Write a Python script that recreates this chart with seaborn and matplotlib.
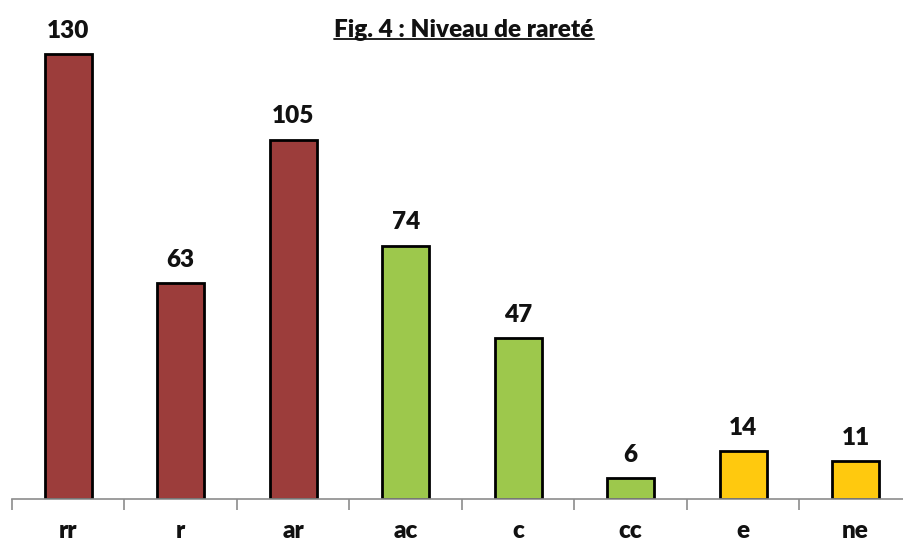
import pandas as pd
import seaborn as sns
import matplotlib.pyplot as plt
from matplotlib.lines import Line2D

# rarity level counts
categories = ["rr", "r", "ar", "ac", "c", "cc", "e", "ne"]
counts = [130, 63, 105, 74, 47, 6, 14, 11]
bar_colors = ["#9c3d3b", "#9c3d3b", "#9c3d3b",
              "#9dc84c", "#9dc84c", "#9dc84c",
              "#ffc90e", "#ffc90e"]

df = pd.DataFrame({"niveau": categories, "nombre": counts})

sns.set_style("white")
plt.rcParams['font.family'] = ['Lato', 'DejaVu Sans']

fig = plt.figure(figsize=(9.04, 5.44), dpi=100)
ax = fig.add_axes([12 / 904, 45 / 544, 892 / 904, 499 / 544])

sns.barplot(df, x="niveau", y="nombre", hue="niveau", palette=bar_colors,
            legend=False, width=0.42, edgecolor="black", linewidth=2,
            saturation=1, ax=ax)

for c in ax.containers:
    ax.bar_label(c, padding=9, fontsize=17.5, fontweight="heavy", color="#111111")

ax.set_ylim(0, 145.8)
ax.set_xlim(-0.5, 7.43)
ax.set_yticks([])
ax.set_xlabel("")
ax.set_ylabel("")
for s in ["top", "right", "left"]:
    ax.spines[s].set_visible(False)
ax.spines["bottom"].set_color("#8c8c8c")
ax.spines["bottom"].set_linewidth(1.2)

# ticks between categories, labels at centres
ax.set_xticks([i - 0.5 for i in range(len(categories))], minor=True)
ax.tick_params(axis="x", which="minor", bottom=True, length=8, width=1.2,
               color="#8c8c8c", direction="out")
ax.tick_params(axis="x", which="major", bottom=True, length=0, pad=15,
               labelsize=17.5)
for lab in ax.get_xticklabels():
    lab.set_fontweight("heavy")
    lab.set_color("#111111")

# underlined title
title = fig.text(464 / 904, 1 - 30 / 544, "Fig. 4 : Niveau de rareté",
                 ha="center", va="center", fontsize=17.5, fontweight="heavy",
                 color="#111111")
fig.canvas.draw()
bb = title.get_window_extent().transformed(fig.transFigure.inverted())
uy = bb.y0 + 0.004
fig.add_artist(Line2D([bb.x0, bb.x1], [uy, uy], transform=fig.transFigure,
                      color="#111111", linewidth=1.3))

plt.savefig("out.png", format="png")
